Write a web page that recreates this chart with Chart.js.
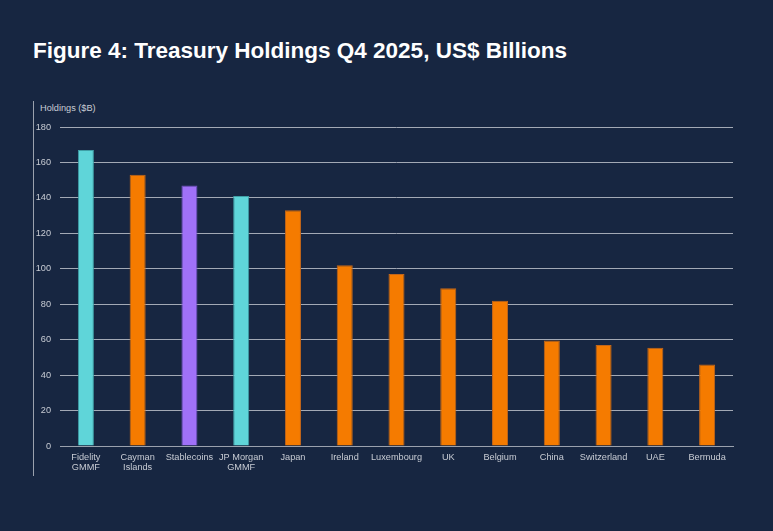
<!DOCTYPE html>
<html>
<head>
<meta charset="utf-8">
<script src="https://cdn.jsdelivr.net/npm/chart.js@4/dist/chart.umd.min.js"></script>
<style>
  html, body { margin: 0; padding: 0; background: #172641; }
  #wrap { position: relative; width: 773px; height: 531px; overflow: hidden; }
  #title { position: absolute; left: 33px; top: 40px; color: #fff; font: bold 22.5px "Liberation Sans", Arial, sans-serif; line-height: 22.5px; white-space: nowrap; }
  #yTitle { position: absolute; left: 40px; top: 103px; color: #c8ccd4; font: 9.2px "Liberation Sans", Arial, sans-serif; line-height: 10px; }
  #vline { position: absolute; left: 33px; top: 101px; width: 1px; height: 375px; background: #9aa1ad; }
  #chart { position: absolute; left: 0; top: 0; }
</style>
</head>
<body>
<div id="wrap">
  <div id="title">Figure 4: Treasury Holdings Q4 2025, US$ Billions</div>
  <div id="vline"></div>
  <div id="yTitle">Holdings ($B)</div>
  <canvas id="chart" width="773" height="531"></canvas>
</div>
<script>
// categories (multi-line labels as arrays)
const holders = [
    ["Fidelity", "GMMF"], ["Cayman", "Islands"], "Stablecoins", ["JP Morgan", "GMMF"], "Japan",
    "Ireland", "Luxembourg", "UK", "Belgium", "China", "Switzerland", "UAE", "Bermuda"
];
const holdings = [167, 153, 147, 141, 133, 102, 97, 89, 82, 59.5, 57, 55.5, 46];
const holderType = ["fund", "country", "stable", "fund", "country", "country", "country",
    "country", "country", "country", "country", "country", "country"];

const yTicks = [0, 20, 40, 60, 80, 100, 120, 140, 160, 180];

const FILL = { fund: "#5fd5d9", country: "#f57b00", stable: "#a071f8" };
const EDGE = { fund: "#3f9fa6", country: "#c2661a", stable: "#6f4fc0" };

const ctx = document.getElementById("chart");
new Chart(ctx, {
    type: "bar",
    data: {
        labels: holders,
        datasets: [{
            data: holdings,
            backgroundColor: holderType.map(t => FILL[t]),
            borderColor: holderType.map(t => EDGE[t]),
            borderWidth: 1,
            barPercentage: 0.31,
            categoryPercentage: 1
        }]
    },
    options: {
        responsive: false,
        animation: false,
        devicePixelRatio: 1,
        layout: { padding: { left: 36, right: 40, top: 127, bottom: 45 } },
        plugins: { legend: { display: false }, tooltip: { enabled: false } },
        scales: {
            x: {
                grid: { display: false, drawTicks: false },
                border: { display: true, color: "#9aa1ad", width: 1 },
                ticks: {
                    color: "#c8ccd4",
                    font: { family: "'Liberation Sans', Arial, sans-serif", size: 9.2, lineHeight: 1.15 },
                    padding: 6,
                    maxRotation: 0,
                    autoSkip: false
                },
                afterFit: s => { s.height = 40; }
            },
            y: {
                min: 0,
                max: 180,
                afterBuildTicks: s => { s.ticks = yTicks.map(v => ({ value: v })); },
                grid: { color: "#a3a9b5", lineWidth: 1, drawTicks: false },
                border: { display: false },
                ticks: {
                    color: "#c8ccd4",
                    font: { family: "'Liberation Sans', Arial, sans-serif", size: 9.2 },
                    padding: 9
                },
                afterFit: s => { s.width = 24; }
            }
        }
    }
});
</script>
</body>
</html>
